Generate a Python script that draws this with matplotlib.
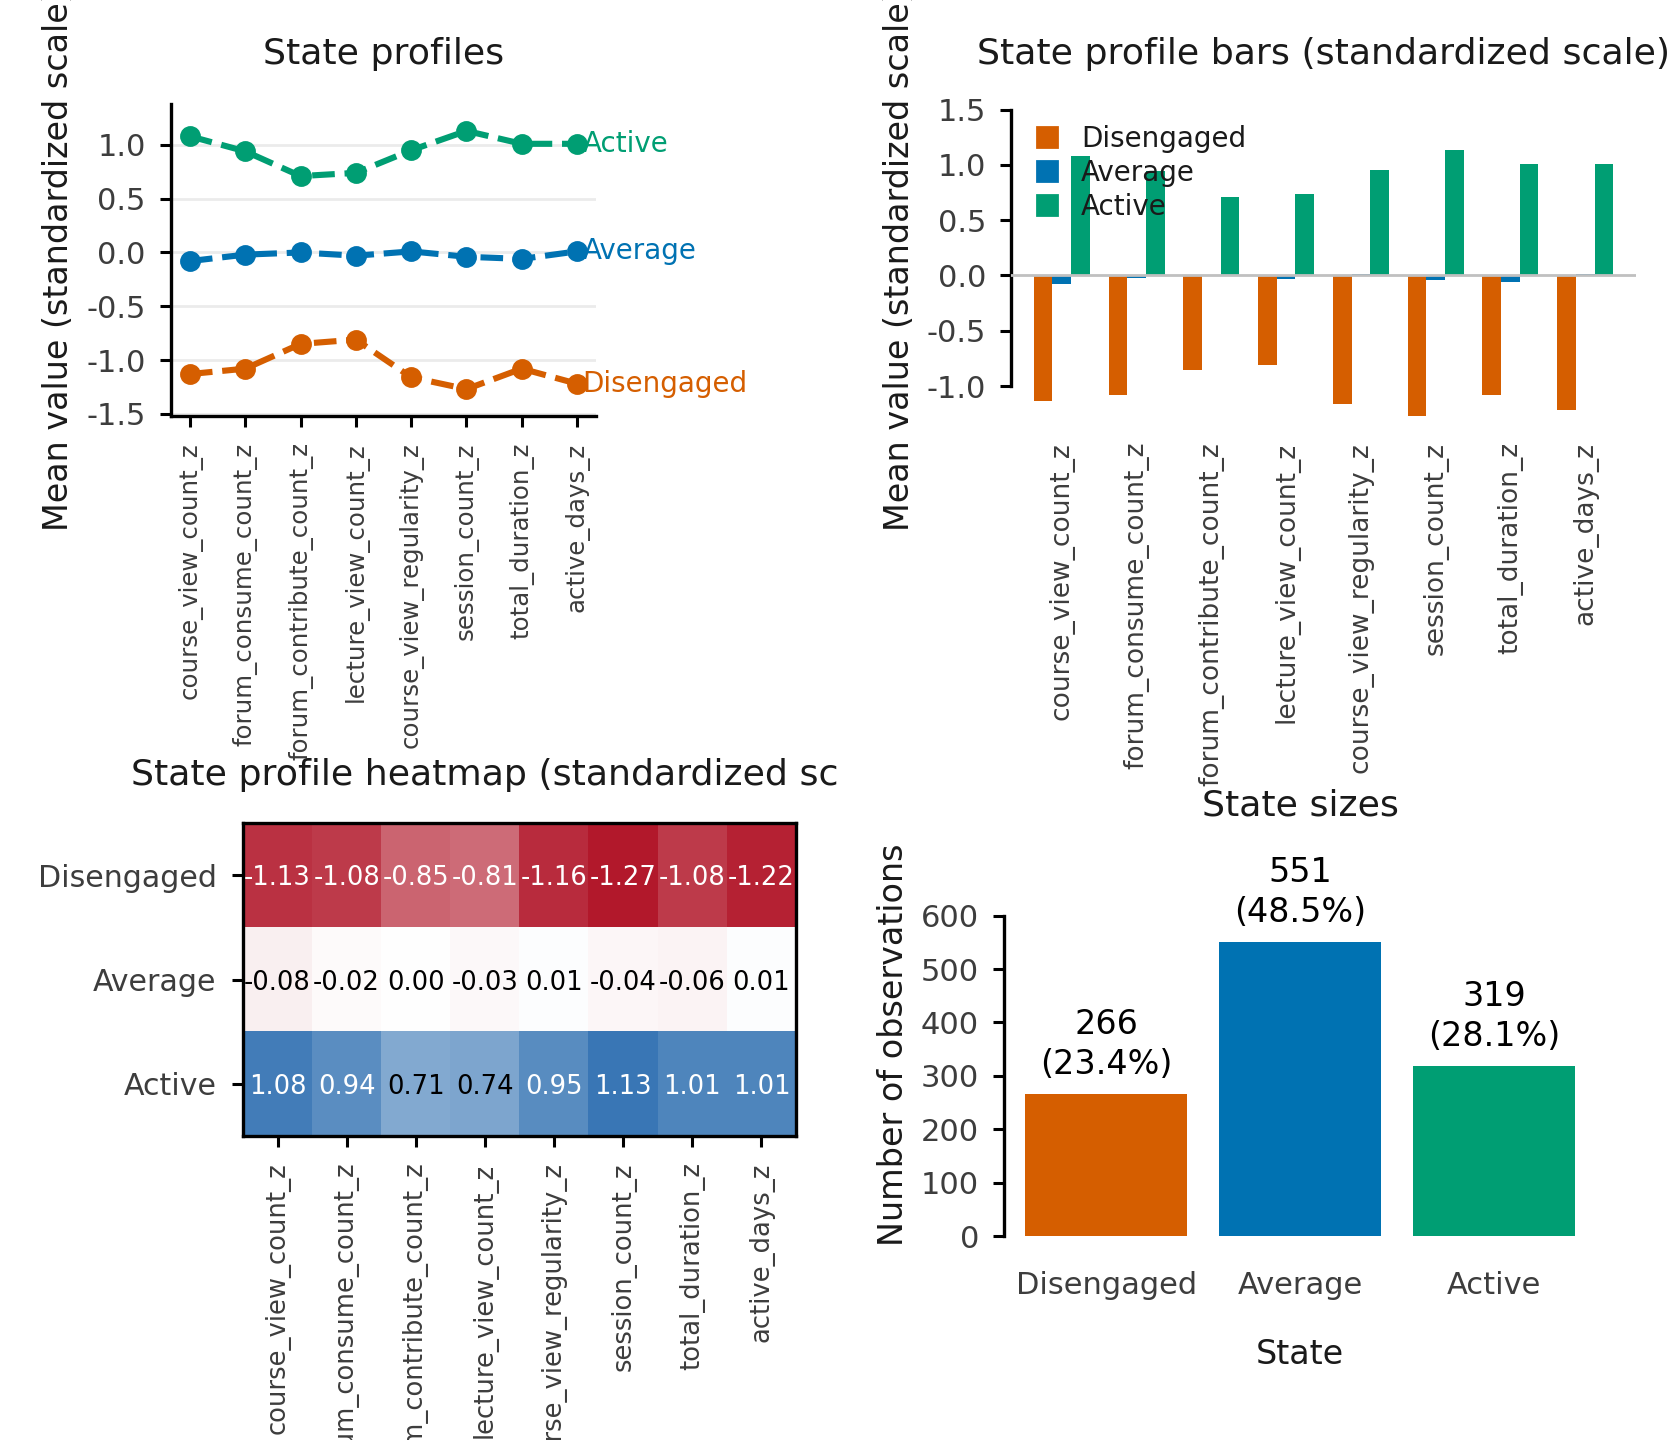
import numpy as np
import matplotlib
matplotlib.use("Agg")
import matplotlib.pyplot as plt
from matplotlib.colors import LinearSegmentedColormap
from matplotlib.patches import Patch
from matplotlib.transforms import Bbox, TransformedBbox

plt.rcParams['font.family'] = ['DejaVu Sans']
plt.rcParams['axes.unicode_minus'] = False

# data
features = ["course_view_count_z", "forum_consume_count_z", "forum_contribute_count_z",
            "lecture_view_count_z", "course_view_regularity_z", "session_count_z",
            "total_duration_z", "active_days_z"]
states = ["Disengaged", "Average", "Active"]
disengaged = [-1.13, -1.08, -0.85, -0.81, -1.16, -1.27, -1.08, -1.22]
average = [-0.08, -0.02, 0.00, -0.03, 0.01, -0.04, -0.06, 0.01]
active = [1.08, 0.94, 0.71, 0.74, 0.95, 1.13, 1.01, 1.01]
counts = [266, 551, 319]
colors = ["#D55E00", "#0072B2", "#009E73"]

profiles = [disengaged, average, active]
tick_col = "#3d3d3d"
title_col = "#1a1a1a"
title_fs = 13.1

fig = plt.figure(figsize=(8.4, 7.2), dpi=200)
W, H = 1680, 1440


def rect(l, r, t, b):
    return [l / W, 1 - b / H, (r - l) / W, (b - t) / H]


def style_ticks(ax):
    ax.tick_params(length=4, width=1.1, pad=5, colors="black", labelcolor=tick_col, labelsize=11)
    for s in ax.spines.values():
        s.set_linewidth(1.2)
        s.set_color("black")


# ---- state profiles (lines)
ax1 = fig.add_axes(rect(170.6, 596.4, 104, 416))
x = np.arange(len(features))
for name, vals, c in zip(states, profiles, colors):
    ax1.plot(x, vals, ls="--", marker="o", color=c, lw=2.2, ms=6.5, zorder=3)
    ax1.text(x[-1] + 0.1, vals[-1], name, color=c, fontsize=10, va="center", ha="left")
ax1.set_ylim(min(disengaged) - 0.25, max(active) + 0.25)
ax1.set_xlim(-0.35, 7.35)
ax1.set_yticks([-1.5, -1.0, -0.5, 0.0, 0.5, 1.0])
ax1.yaxis.grid(True, color="#ebebeb", lw=1.0)
ax1.set_axisbelow(True)
ax1.spines["top"].set_visible(False)
ax1.spines["right"].set_visible(False)
style_ticks(ax1)
ax1.set_xticks(x)
ax1.set_xticklabels(features, rotation=90, fontsize=8.8)
ax1.tick_params(axis="x", pad=5.5)
ax1.set_ylabel("Mean value (standardized scale)", fontsize=12, color=title_col)
ax1.set_title("State profiles", fontsize=title_fs, color=title_col, pad=14.5)

# ---- state profile bars
ax2 = fig.add_axes(rect(1011, 1636, 104, 416))
w = 0.25
for i, (name, vals, c) in enumerate(zip(states, profiles, colors)):
    ax2.bar(x + (i - 1) * w, vals, width=w, color=c, label=name, zorder=2)
ax2.axhline(0, color="#c0c0c0", lw=1.0, zorder=3)
ax2.set_xlim(-0.68, 7.68)
ax2.set_ylim(-1.27, 1.55)
ax2.set_yticks([-1.0, -0.5, 0.0, 0.5, 1.0, 1.5])
for s in ["top", "right", "bottom"]:
    ax2.spines[s].set_visible(False)
style_ticks(ax2)
ax2.spines["left"].set_bounds(-1.0, 1.5)
ax2.set_xticks(x)
ax2.set_xticklabels(features, rotation=90, fontsize=9.5)
ax2.tick_params(axis="x", length=0, pad=9.3)
ax2.set_ylabel("Mean value (standardized scale)", fontsize=12, color=title_col)
ax2.set_title("State profile bars (standardized scale)", fontsize=title_fs, color=title_col, pad=14.5)
handles = [Patch(color=c) for c in colors]
leg = ax2.legend(handles, states, loc="upper left", bbox_to_anchor=(0.042, 0.933),
                 frameon=False, fontsize=10, handlelength=0.72, handleheight=0.72,
                 handletextpad=0.85, labelspacing=0.215, borderpad=0, borderaxespad=0)
for t in leg.get_texts():
    t.set_color(title_col)

# ---- heatmap
ax3 = fig.add_axes(rect(243, 796, 823, 1136))
mat = np.array(profiles)
vmax = np.abs(mat).max()
cmap = LinearSegmentedColormap.from_list("rwb", ["#b2182b", "#ffffff", "#2166ac"])
ax3.imshow(mat, cmap=cmap, vmin=-vmax, vmax=vmax, aspect="auto")
for i in range(mat.shape[0]):
    for j in range(mat.shape[1]):
        v = mat[i, j]
        ax3.text(j, i, f"{v:.2f}", ha="center", va="center_baseline", fontsize=9.3,
                 color="white" if abs(v) > 0.75 else "black")
style_ticks(ax3)
ax3.set_xticks(x)
ax3.set_xticklabels(features, rotation=90, fontsize=9.3)
ax3.set_yticks(range(len(states)))
ax3.set_yticklabels(states, fontsize=10.8)
ax3.tick_params(pad=5.5)
t3 = ax3.set_title("State profile heatmap (standardized scale)", fontsize=title_fs,
                   color=title_col, pad=13.7)
# the title runs into the right-hand panel and is cut at the middle of the figure
t3.set_clip_box(TransformedBbox(Bbox.from_extents(0, 0, 0.499, 1), fig.transFigure))
t3.set_clip_on(True)

# ---- state sizes
ax4 = fig.add_axes(rect(1004, 1596, 1236 - 715 * 0.5338, 1236))
pos = np.arange(len(states))
ax4.bar(pos, counts, width=0.835, color=colors)
total = sum(counts)
for p, n in zip(pos, counts):
    ax4.annotate(f"{n}\n({n / total * 100:.1f}%)", (p, n), xytext=(0, 4.6),
                 textcoords="offset points", ha="center", va="bottom", fontsize=12,
                 color="black", linespacing=1.27)
ax4.set_xlim(-0.527, 2.527)
ax4.set_ylim(0, 715)
ax4.set_yticks(range(0, 700, 100))
for s in ["top", "right", "bottom"]:
    ax4.spines[s].set_visible(False)
style_ticks(ax4)
ax4.spines["left"].set_bounds(0, 600)
ax4.set_xticks(pos)
ax4.set_xticklabels(states, fontsize=11)
ax4.tick_params(axis="x", length=0, pad=12.7)
ax4.set_xlabel("State", fontsize=12, color=title_col, labelpad=13.7)
ax4.set_ylabel("Number of observations", fontsize=12, color=title_col)
ax4.set_title("State sizes", fontsize=title_fs, color=title_col, pad=14)

fig.savefig("out.png", dpi=200)
